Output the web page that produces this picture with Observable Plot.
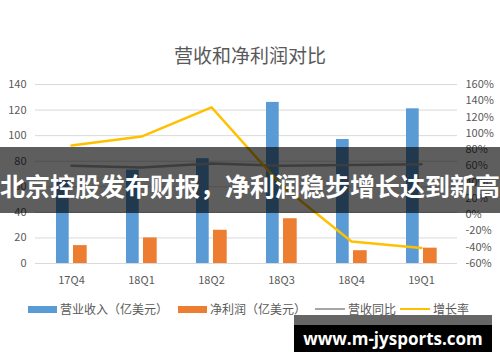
<!DOCTYPE html>
<html>
<head>
<meta charset="utf-8">
<script src="https://cdn.jsdelivr.net/npm/d3@7"></script>
<script src="https://cdn.jsdelivr.net/npm/@observablehq/plot@0.6"></script>
<style>
  body { margin: 0; background: #fff; }
  #wrap { position: relative; width: 500px; height: 362px; overflow: hidden; font-family: "Noto Sans CJK SC", "Noto Sans", sans-serif; }
  #wrap svg { position: absolute; left: 0; top: 0; }
  .abs { position: absolute; white-space: nowrap; }
  #title { left: 0; width: 500px; top: 43px; text-align: center; font-size: 19px; line-height: 24px; color: #595959; }
  .leg { top: 301px; font-size: 12px; line-height: 16px; color: #595959; }
  .sw { position: absolute; }
  #banner { left: 0; top: 147px; width: 500px; height: 66px; background: rgba(0,0,0,0.63); }
  #bannerText { left: 0; top: 171px; width: 500px; font-size: 25px; line-height: 28px; font-weight: bold; color: #fff; text-align: center; letter-spacing: 0px; }
  #wm { left: 294px; top: 315px; width: 198px; height: 27px; background: #000; border-top: 10px solid #666; color: #fff; font-family: "Open Sans", sans-serif; font-weight: bold; font-size: 17px; line-height: 27px; text-align: center; }
</style>
</head>
<body>
<div id="wrap"></div>
<script>
// ---- data ----
const categories = ["17Q4", "18Q1", "18Q2", "18Q3", "18Q4", "19Q1"];
const revenue = [66, 73, 82, 126, 97, 121];        // 营业收入（亿美元）
const netProfit = [14, 20, 26, 35, 10, 12];        // 净利润（亿美元）
const revenueYoY = [60, 58, 63, 60, 61, 62];       // 营收同比 (%)
const growthRate = [85, 96, 132, 36, -33, -41];    // 增长率 (%)
const leftTicks = [0, 20, 40, 60, 80, 100, 120, 140];
const rightTicks = [-60, -40, -20, 0, 20, 40, 60, 80, 100, 120, 140, 160];
const chartTitle = "营收和净利润对比";
const seriesNames = ["营业收入（亿美元）", "净利润（亿美元）", "营收同比", "增长率"];
const bannerTitle = "北京控股发布财报，净利润稳步增长达到新高";
const watermark = "www.m-jysports.com";

// ---- secondary axis mapping (right axis -60%..160% onto left 0..140) ----
const toLeft = p => (p + 60) / 220 * 140;
const fromLeft = v => Math.round(v * 220 / 140 - 60);

const rows = categories.map((c, i) => ({
  cat: c, rev: revenue[i], np: netProfit[i],
  yoy: toLeft(revenueYoY[i]), gr: toLeft(growthRate[i])
}));

const grey = "#595959";
const chart = Plot.plot({
  width: 500, height: 362,
  marginTop: 84, marginBottom: 99, marginLeft: 35, marginRight: 43,
  style: { fontFamily: "'Noto Sans CJK SC', 'Noto Sans', sans-serif", fontSize: "11px", color: grey, background: "transparent" },
  x: { type: "band", domain: categories, padding: 0, label: null },
  y: { domain: [0, 140], label: null },
  marks: [
    Plot.ruleY(leftTicks, { stroke: "#d9d9d9", strokeWidth: 1 }),
    Plot.barY(rows, { x: "cat", y: "rev", fill: "#5B9BD5", insetLeft: 20, insetRight: 37.3 }),
    Plot.barY(rows, { x: "cat", y: "np", fill: "#ED7D31", insetLeft: 37, insetRight: 19.3 }),
    Plot.line(rows, { x: "cat", y: "yoy", stroke: "#A5A5A5", strokeWidth: 2.5 }),
    Plot.line(rows, { x: "cat", y: "gr", stroke: "#FFC000", strokeWidth: 2.5 }),
    Plot.axisY({ anchor: "left", ticks: leftTicks, tickSize: 0, tickPadding: 9, label: null, fill: grey }),
    Plot.axisY({ anchor: "right", ticks: rightTicks.map(toLeft), tickFormat: d => fromLeft(d) + "%", tickSize: 0, tickPadding: 8, label: null, fill: grey }),
    Plot.axisX({ tickSize: 0, tickPadding: 13, label: null, fill: grey })
  ]
});

const wrap = document.getElementById("wrap");
wrap.appendChild(chart);

function addDiv(id, cls, text, style) {
  const d = document.createElement("div");
  if (id) d.id = id;
  d.className = cls;
  if (text != null) d.textContent = text;
  if (style) Object.assign(d.style, style);
  wrap.appendChild(d);
  return d;
}
addDiv("title", "abs", chartTitle);

// legend
const legendItems = [
  { x: 28, w: 29, h: 7, color: "#5B9BD5", tx: 60, label: seriesNames[0] },
  { x: 178, w: 29, h: 7, color: "#ED7D31", tx: 210, label: seriesNames[1] },
  { x: 315, w: 30, h: 2.5, color: "#A5A5A5", tx: 348, label: seriesNames[2] },
  { x: 400, w: 30, h: 2.5, color: "#FFC000", tx: 433, label: seriesNames[3] }
];
legendItems.forEach(it => {
  addDiv(null, "sw", null, { left: it.x + "px", top: (309 - it.h / 2) + "px", width: it.w + "px", height: it.h + "px", background: it.color });
  addDiv(null, "abs leg", it.label, { left: it.tx + "px" });
});

addDiv("banner", "abs", null);
addDiv("bannerText", "abs", bannerTitle);
addDiv("wm", "abs", watermark);
</script>
</body>
</html>
